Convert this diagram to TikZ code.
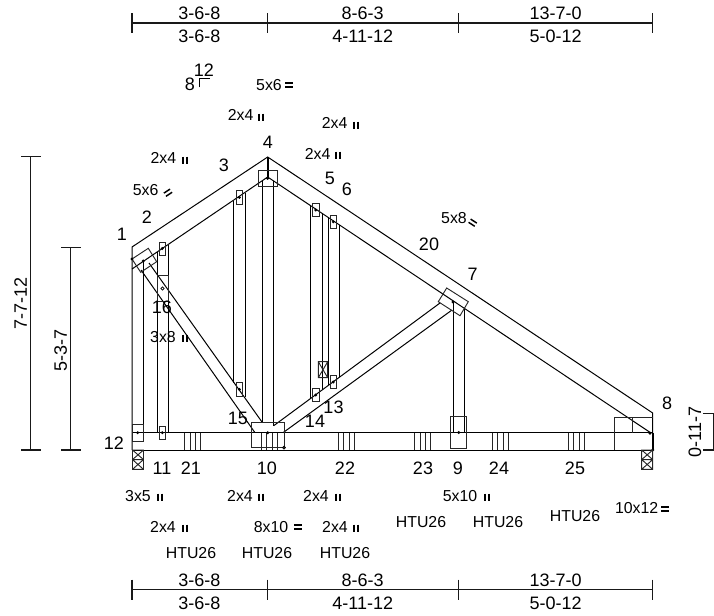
\documentclass[tikz,border=0pt]{standalone}
\usepackage{fontspec}
\setmainfont{Liberation Sans}
\tikzset{
  px/.style={x=0.75pt,y=-0.75pt},
  member/.style={line width=0.75pt,draw=black},
  platebox/.style={line width=0.7pt,draw=black!85},
  lbl/.style={inner sep=0pt,font=\fontsize{13.5pt}{15pt}\selectfont},
  plt/.style={inner sep=0pt,font=\fontsize{11.9pt}{14pt}\selectfont},
  dimtxt/.style={inner sep=0pt,font=\fontsize{13.5pt}{15pt}\selectfont},
  dimline/.style={line width=0.9pt,draw=black!90},
  barmark/.style={line width=1.25pt,draw=black},
}
\newcommand{\hmark}[3]{\draw[barmark,shift={(#1,#2)},rotate=#3] (-4,-2)--(4,-2) (-4,2)--(4,2);}
\newcommand{\smark}[3]{\draw[barmark,line width=1.1pt,shift={(#1,#2)},rotate=#3] (-3.7,-1.9)--(3.7,-1.9) (-3.7,1.9)--(3.7,1.9);}
\newcommand{\vmark}[2]{\draw[barmark,line width=1.5pt] ({#1-1.9},{#2-3.5})--({#1-1.9},{#2+3.5}) ({#1+1.9},{#2-3.5})--({#1+1.9},{#2+3.5});}
\newcommand{\pdot}[2]{\fill (#1,{#2}) circle[radius=1.6];}
\newcommand{\pbox}[5]{\draw[platebox] (#1,#2) rectangle (#3,#4); \pdot{#5}{(#2+#4)/2}}
\begin{document}
\begin{tikzpicture}[px]
\useasboundingbox (0,0) rectangle (714,615);
% chords
\draw[member] (132,450)--(132,247)--(267.7,157)--(652.7,413)--(652.7,450);
\draw[member] (132,269)--(267.7,177)--(651,433);
\draw[member] (132,432.7)--(652.7,432.7);
\draw[member] (132,450)--(652.7,450);
% webs
\draw[member] (143.3,261)--(143.3,432.7);
\draw[member] (157,252)--(157,432.7) (168,244.6)--(168,432.7);
\draw[member] (141,270)--(255,432.7) (149,263)--(262,422);
\draw[member] (233,200.7)--(233,383) (245,192.5)--(245,397);
\draw[member] (262,181)--(262,422) (273.7,181)--(273.7,425.7);
\draw[member] (310,205)--(310,398.5) (322,213)--(322,389.7);
\draw[member] (328,217)--(328,385) (339,224.5)--(339,377);
\draw[member] (273.7,425.7)--(440,303) (283,432.7)--(452,310);
\draw[member] (453,302)--(453,432.7) (464,307.7)--(464,432.7);
\draw[line width=1.3pt] (267.7,157)--(267.7,177);
\draw[line width=1.2pt] (652.7,433)--(652.7,450);
% plates
\pbox{258.3}{170}{277.3}{186.7}{267.7}
\pbox{236}{190.7}{242.7}{204}{239.3}
\pbox{236}{382.7}{242.7}{396}{239.3}
\pbox{159.3}{242}{165.7}{255}{162.3}
\pbox{312.3}{203.3}{319.3}{216.7}{315.7}
\pbox{330}{215.3}{336.7}{228.3}{333.3}
\pbox{312.3}{388.3}{319.3}{401.7}{315.7}
\pbox{330}{375.3}{336.7}{388.7}{333.3}
\pbox{132.7}{424.3}{143.3}{441}{137.7}
\pbox{159.3}{426}{165.7}{439.3}{162.3}
\pbox{450.3}{416.7}{466.7}{448.3}{458.7}
\draw[platebox] (157.3,275.7) rectangle (168,301);
\draw[line width=0.5pt] (162.5,288.5) circle[radius=1.7];
\draw[platebox] (148.3,248.3)--(156.7,261.7)--(140.7,272.3)--(132,259)--cycle;
\pdot{132}{259}\pdot{143.3}{261}
\draw[platebox] (446.7,288)--(468.3,301.7)--(460,315.7)--(438.3,301.7)--cycle;
\pdot{453}{302}
% plate 10
\draw[platebox] (251.7,422.3) rectangle (284,447.7);
\draw[platebox] (261.7,432.7)--(261.7,450) (266.7,432.7)--(266.7,450) (272.3,432.7)--(272.3,450) (277.3,432.7)--(277.3,450);
\pdot{267.7}{432.7}
\draw[line width=0.6pt,fill=black!70] (284,447.7) circle[radius=1.4];
% plate 8
\draw[platebox] (614.3,450)--(614.3,417.7)--(652.7,417.7);
\draw[platebox] (632.7,417.7)--(632.7,432.7);
\pdot{650}{433.3}\pdot{652.7}{450}
% brace
\draw[platebox] (318.3,361.7) rectangle (327.7,377.7) (318.3,361.7)--(327.7,377.7) (327.7,361.7)--(318.3,377.7);
% bearings
\draw[platebox] (132.5,450) rectangle (143.5,459.6) (132.5,459.6) rectangle (143.5,469.3)
  (132.5,450)--(143.5,459.6) (143.5,450)--(132.5,459.6) (132.5,459.6)--(143.5,469.3) (143.5,459.6)--(132.5,469.3);
\draw[platebox] (641.7,450) rectangle (652.7,459.6) (641.7,459.6) rectangle (652.7,469.3)
  (641.7,450)--(652.7,459.6) (652.7,450)--(641.7,459.6) (641.7,459.6)--(652.7,469.3) (652.7,459.6)--(641.7,469.3);
% ladder blocks
\foreach \a/\b/\c/\d in {184.7/190/195.7/200.7,338.3/343.3/349.3/354.3,414.3/420/425.7/430.7,492/497/503/508,568.3/573.3/579/584.3}{
  \draw[platebox] (\a,432.7)--(\a,450) (\b,432.7)--(\b,450) (\c,432.7)--(\c,450) (\d,432.7)--(\d,450);
}
% slope mark
\draw[line width=0.7pt] (199.3,87.3)--(199.3,78.3)--(210,78.3);
\node[lbl] (sloperise) at (190,84) {8};
\node[lbl] (sloperun) at (204,70) {12};
% joint labels
\foreach \n/\t/\x/\y in {j1/1/122/234,j2/2/147/217,j3/3/224/165,j4/4/268/142,j5/5/330/178,j6/6/347/189,j7/7/472.5/274,j8/8/667/403,j9/9/458/468,j10/10/267/468,j11/11/162/468,j12/12/114/443,j13/13/333.5/407,j14/14/315/421.5,j15/15/238/418,j16/16/162/307,j20/20/429/244,j21/21/191/468,j22/22/345/468,j23/23/423/468,j24/24/499/468,j25/25/575/468}{
  \node[lbl] (\n) at (\x,\y) {\t};
}
% plate labels
\foreach \n/\t/\x/\y in {p1/5x6/269/85,p2/2x4/240.7/115,p3/2x4/334.7/122.7,p4/2x4/317.7/154,p5/2x4/163.3/157.7,p6/5x6/145.7/190,p7/5x8/454/218,p8/3x8/163/337,p9/3x5/138/496,p10/2x4/240/496,p11/2x4/316/496,p12/5x10/460/496,p13/2x4/163/527,p14/8x10/271/527,p15/2x4/335/527,p16/10x12/636.7/508}{
  \node[plt] (\n) at (\x,\y) {\t};
}
\hmark{289}{85}{0}
\hmark{298}{527}{0}
\hmark{665}{509}{0}
\smark{168}{192.7}{33}
\smark{472.7}{222.7}{-33}
\vmark{261}{117}\vmark{355.7}{125}\vmark{338.3}{155}\vmark{185}{160}\vmark{185}{338}
\vmark{160}{497}\vmark{261}{497}\vmark{338}{497}\vmark{487}{497}\vmark{185}{528}\vmark{356}{528}
% connector labels
\foreach \n/\x/\y in {h1/191/553,h2/267/553,h3/345/553,h4/421/522,h5/498/522,h6/575/516}{
  \node[plt] (\n) at (\x,\y) {HTU26};
}
% top dims
\draw[dimline] (132,23)--(652.7,23);
\foreach \x in {132,267.7,458.7,652.7}{\draw[dimline] (\x,13)--(\x,33);}
\node[dimtxt] (t1) at (199.3,13) {3-6-8};
\node[dimtxt] (t2) at (362.7,13) {8-6-3};
\node[dimtxt] (t3) at (555.7,13) {13-7-0};
\node[dimtxt] (t4) at (199.3,36) {3-6-8};
\node[dimtxt] (t5) at (362.7,36) {4-11-12};
\node[dimtxt] (t6) at (555.7,36) {5-0-12};
% bottom dims
\draw[dimline] (132,589.5)--(652.7,589.5);
\foreach \x in {132,267.7,458.7,652.7}{\draw[dimline] (\x,579.7)--(\x,599.7);}
\node[dimtxt] (b1) at (199.3,580) {3-6-8};
\node[dimtxt] (b2) at (362.7,580) {8-6-3};
\node[dimtxt] (b3) at (555.7,580) {13-7-0};
\node[dimtxt] (b4) at (199.3,603) {3-6-8};
\node[dimtxt] (b5) at (362.7,603) {4-11-12};
\node[dimtxt] (b6) at (555.7,603) {5-0-12};
% left dims
\draw[dimline] (30.7,156.7)--(30.7,450) (21,156.7)--(40.7,156.7) (21,450)--(40.7,450);
\draw[dimline] (70.7,247.3)--(70.7,450) (61,247.3)--(81,247.3) (61,450)--(81,450);
\node[dimtxt,rotate=90] (l1) at (20.7,303) {7-7-12};
\node[dimtxt,rotate=90] (l2) at (60.7,350.7) {5-3-7};
% right dim
\node[dimtxt,rotate=90] (r1) at (695,431.7) {0-11-7};
\draw[dimline] (703,413.3)--(713.5,413.3)--(713.5,450)--(703,450);
\end{tikzpicture}
\end{document}
